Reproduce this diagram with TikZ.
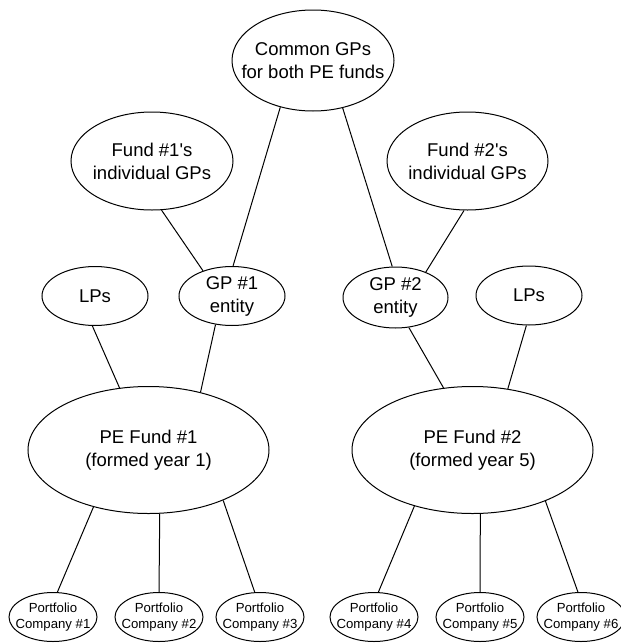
\documentclass[tikz,border=0pt]{standalone}
\usepackage{fontspec}
\setmainfont{Liberation Sans}
\usetikzlibrary{shapes.geometric}
\begin{document}
\begin{tikzpicture}[x=1pt,y=-1pt,
  ell/.style={draw, line width=1pt, ellipse, inner sep=0pt},
  bigtxt/.style={font=\fontsize{18.5}{23}\selectfont, align=center},
  smalltxt/.style={font=\fontsize{13.2}{16.5}\selectfont, align=center},
  conn/.style={line width=1pt}]
\useasboundingbox (0,0) rectangle (621,643);
% top
\node[ell, minimum width=162pt, minimum height=101pt,
  label={[bigtxt]center:{Common GPs\\for both PE funds}}] (common) at (313,60.5) {};
\node[ell, minimum width=162pt, minimum height=98pt,
  label={[bigtxt]center:{Fund \#1\textquotesingle s\\individual GPs}}] (f1gp) at (152,161) {};
\node[ell, minimum width=161pt, minimum height=98pt,
  label={[bigtxt]center:{Fund \#2\textquotesingle s\\individual GPs}}] (f2gp) at (467.5,161) {};
% middle row
\node[ell, minimum width=106pt, minimum height=59pt,
  label={[bigtxt]center:{LPs}}] (lps1) at (95,296) {};
\node[ell, minimum width=106pt, minimum height=59pt,
  label={[bigtxt]center:{GP \#1\\entity}}] (gp1) at (232,296) {};
\node[ell, minimum width=105pt, minimum height=61pt,
  label={[bigtxt]center:{GP \#2\\entity}}] (gp2) at (395.5,297.5) {};
\node[ell, minimum width=106pt, minimum height=59pt,
  label={[bigtxt]center:{LPs}}] (lps2) at (529,295.5) {};
% funds
\node[ell, minimum width=241pt, minimum height=127pt,
  label={[bigtxt]center:{PE Fund \#1\\(formed year 1)}}] (fund1) at (148.5,450) {};
\node[ell, minimum width=241pt, minimum height=127pt,
  label={[bigtxt]center:{PE Fund \#2\\(formed year 5)}}] (fund2) at (472.5,450) {};
% companies
\foreach \n/\x in {1/53,2/159,3/260,4/374,5/480,6/581}{
  \node[ell, minimum width=88pt, minimum height=49pt,
    label={[smalltxt]center:{Portfolio\\Company \#\n}}] (c\n) at (\x,617) {};
}
% connectors
\draw[conn] (common.-125.4) -- (gp1.88.2);
\draw[conn] (common.-58.6) -- (gp2.96.8);
\draw[conn] (f1gp.-79.8) -- (gp1.139.1);
\draw[conn] (f2gp.-94) -- (gp2.40.8);
\draw[conn] (lps1.-95.9) -- (fund1.115.8);
\draw[conn] (gp1.-120.4) -- (fund1.48.5);
\draw[conn] (gp2.-66.1) -- (fund2.115.8);
\draw[conn] (lps2.-95.6) -- (fund2.60.2);
\draw[conn] (fund1.-134.3) -- (c1.80.5);
\draw[conn] (fund1.-80.8) -- (c2.north);
\draw[conn] (fund1.-34.6) -- (c3.102.8);
\draw[conn] (fund2.-136.7) -- (c4.80.5);
\draw[conn] (fund2.-83.1) -- (c5.north);
\draw[conn] (fund2.-35.0) -- (c6.97.8);
\end{tikzpicture}
\end{document}
